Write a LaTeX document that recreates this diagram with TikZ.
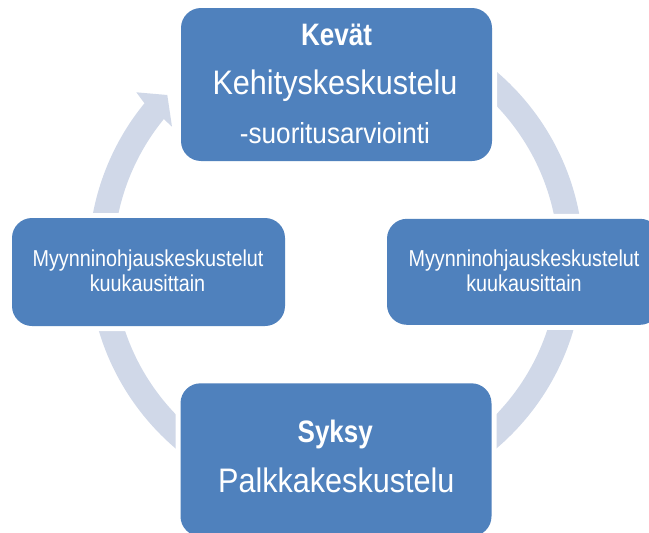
\documentclass[tikz,border=0pt]{standalone}
\usepackage{fontspec}
\newfontfamily\lsn[FakeStretch=0.9]{Liberation Sans}
\newfontfamily\lsnb[FakeStretch=0.84]{Liberation Sans}
\newfontfamily\lsnc[FakeStretch=0.86]{Liberation Sans}
\definecolor{boxblue}{HTML}{4F81BD}
\definecolor{ringc}{HTML}{D0D8E8}
\begin{document}
\begin{tikzpicture}[x=1pt,y=-1pt,
  box/.style={fill=boxblue, rounded corners=20pt, inner sep=0pt,
    preaction={draw=white, line width=10pt}},
  lbl/.style={text=white, inner sep=0pt, anchor=base},
  bigtxt/.style={lbl, font=\lsn\fontsize{34}{40}\selectfont},
  midtxt/.style={lbl, font=\lsn\fontsize{29}{34}\selectfont},
  boldtxt/.style={lbl, font=\lsnb\bfseries\fontsize{31}{36}\selectfont},
  smalltxt/.style={lbl, font=\lsnc\fontsize{23}{27}\selectfont}]
\useasboundingbox (0,0) rectangle (649,533);
\coordinate (c) at (336,260);
% ring
\draw[ringc, line width=25pt] ([shift={(-85:235)}]c) arc[start angle=-85, end angle=175, radius=235];
\fill[ringc] ([shift={(175:247.5)}]c) arc[start angle=175, end angle=219.3, radius=247.5]
  -- (136.3,92.3) -- (167.3,95) -- (172,126.7)
  -- ([shift={(219.3:222.5)}]c) arc[start angle=219.3, end angle=175, radius=222.5] -- cycle;
% boxes
\node[box, minimum width=311pt, minimum height=153pt] (top) at (336.5,84.5) {};
\node[box, minimum width=273pt, minimum height=108pt] (left) at (148.5,272) {};
\node[box, minimum width=273pt, minimum height=106pt] (right) at (523.5,271.8) {};
\node[box, minimum width=311pt, minimum height=153pt] (bottom) at (336,459.8) {};
% texts
\node[boldtxt] (t1) at (336.5,45) {Kevät};
\node[bigtxt] (t2) at (335,94) {Kehityskeskustelu};
\node[midtxt] (t3) at (335,143.3) {-suoritusarviointi};
\node[smalltxt] (l1) at (148,266.7) {Myynninohjauskeskustelut};
\node[smalltxt] (l2) at (147.5,291) {kuukausittain};
\node[smalltxt] (r1) at (524,266.7) {Myynninohjauskeskustelut};
\node[smalltxt] (r2) at (524,291.7) {kuukausittain};
\node[boldtxt] (b1) at (335.3,442.7) {Syksy};
\node[bigtxt] (b2) at (336.3,492.7) {Palkkakeskustelu};
\end{tikzpicture}
\end{document}
